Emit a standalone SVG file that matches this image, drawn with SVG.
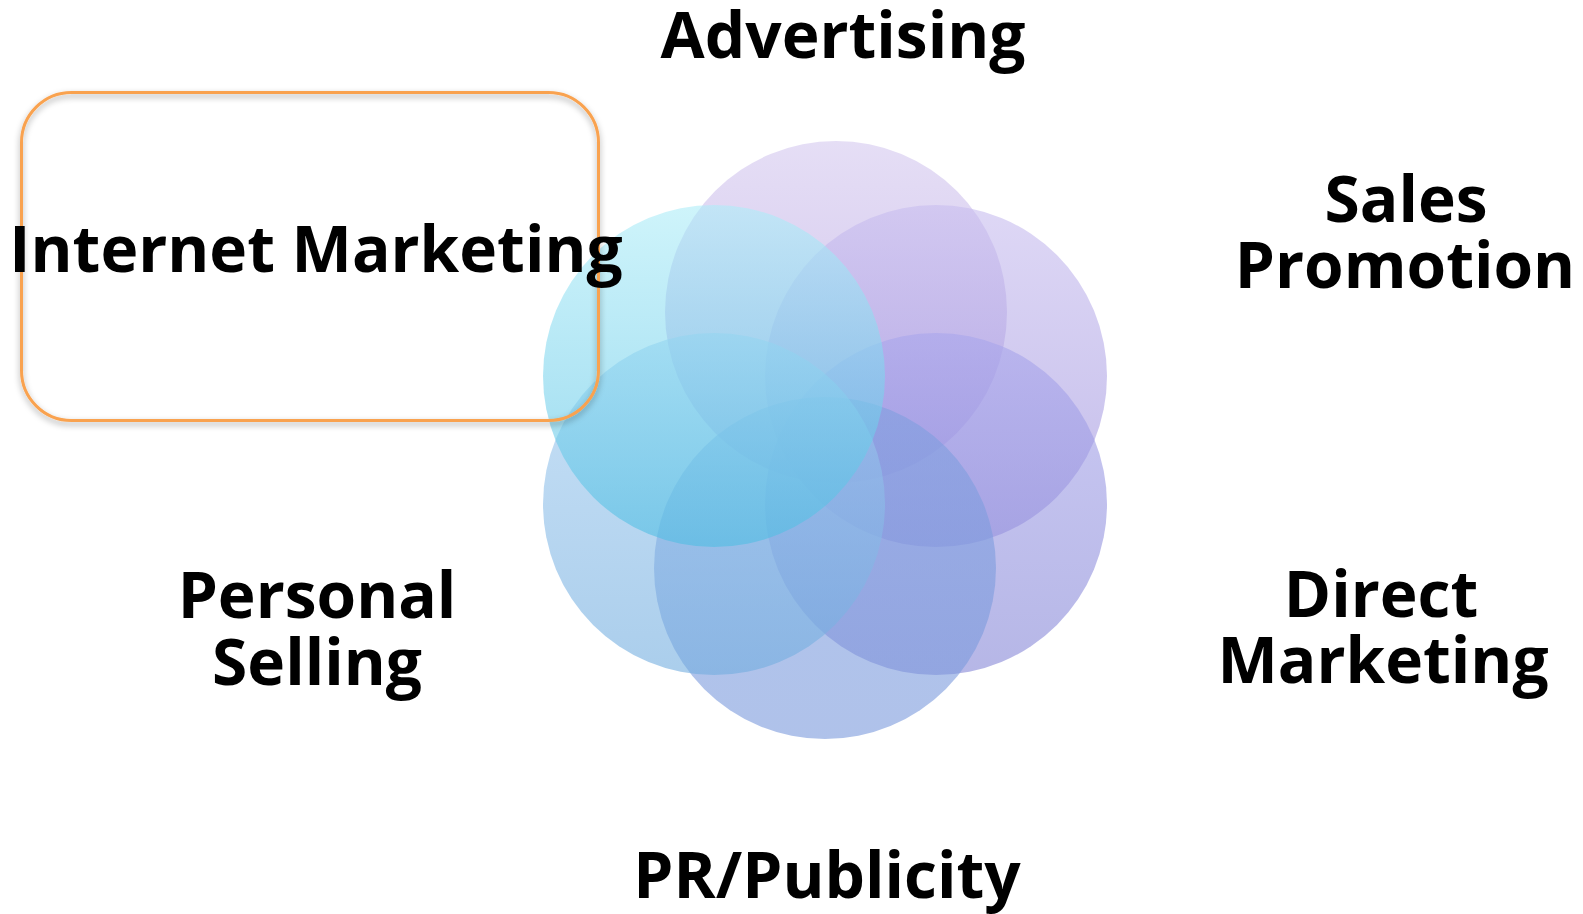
<svg xmlns="http://www.w3.org/2000/svg" width="1583" height="914" viewBox="0 0 1583 914">
<style>
.lbl{font-family:"Open Sans","Liberation Sans",sans-serif;font-weight:700;font-size:64px;fill:#000;text-anchor:middle}
.c{fill-opacity:0.6}
</style>
<defs>
<linearGradient id="gTop" x1="0" y1="0" x2="0" y2="1"><stop offset="0" stop-color="#d4c8ef"/><stop offset="1" stop-color="#ab95dc"/></linearGradient>
<linearGradient id="gUL" x1="0" y1="0" x2="0" y2="1"><stop offset="0" stop-color="#aeedf8"/><stop offset="1" stop-color="#4fbde3"/></linearGradient>
<linearGradient id="gUR" x1="0" y1="0" x2="0" y2="1"><stop offset="0" stop-color="#c8bdef"/><stop offset="1" stop-color="#9a8fdc"/></linearGradient>
<linearGradient id="gLR" x1="0" y1="0" x2="0" y2="1"><stop offset="0" stop-color="#a9a6ec"/><stop offset="1" stop-color="#8586d6"/></linearGradient>
<linearGradient id="gB" x1="0" y1="0" x2="0" y2="1"><stop offset="0" stop-color="#7f9fdf"/><stop offset="1" stop-color="#7a99dc"/></linearGradient>
<linearGradient id="gLL" x1="0" y1="0" x2="0" y2="1"><stop offset="0" stop-color="#a4cdf1"/><stop offset="1" stop-color="#72addf"/></linearGradient>
<filter id="sh" x="-10%" y="-10%" width="120%" height="125%">
<feDropShadow dx="0" dy="3" stdDeviation="3" flood-color="#000" flood-opacity="0.35"/>
</filter>
</defs>
<g id="circles">
<circle id="c-top" class="c" cx="836" cy="312" r="171" fill="url(#gTop)"/>
<circle id="c-ur" class="c" cx="936" cy="376" r="171" fill="url(#gUR)"/>
<circle id="c-lr" class="c" cx="936" cy="504" r="171" fill="url(#gLR)"/>
<circle id="c-bottom" class="c" cx="825" cy="568" r="171" fill="url(#gB)"/>
<circle id="c-ll" class="c" cx="714" cy="504" r="171" fill="url(#gLL)"/>
<circle id="c-ul" class="c" cx="714" cy="376" r="171" fill="url(#gUL)"/>
</g>
<g id="advertising"><text class="lbl" x="843" y="58">Advertising</text></g>
<g id="sales-promotion"><text class="lbl" y="222"><tspan x="1406">Sales</tspan><tspan x="1405" dy="66">Promotion</tspan></text></g>
<g id="direct-marketing"><text class="lbl" y="617"><tspan x="1381">Direct</tspan><tspan x="1383" dy="66">Marketing</tspan></text></g>
<g id="pr-publicity"><text class="lbl" x="827" y="898">PR/Publicity</text></g>
<g id="personal-selling"><text class="lbl" y="618"><tspan x="317">Personal</tspan><tspan x="317" dy="67">Selling</tspan></text></g>
<g id="internet-marketing">
<rect x="21.5" y="92.5" width="577" height="328" rx="50" ry="50" fill="none" stroke="#f9a24f" stroke-width="3" filter="url(#sh)"/>
<text class="lbl" x="316" y="272">Internet Marketing</text>
</g>
</svg>
